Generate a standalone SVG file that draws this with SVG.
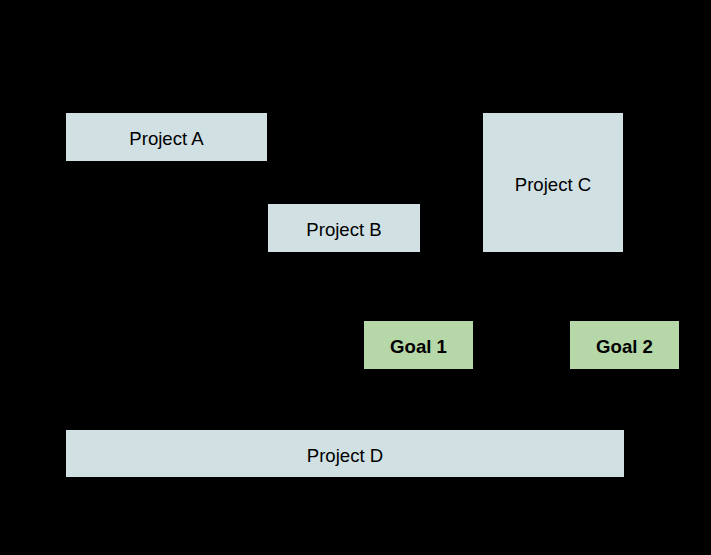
<svg xmlns="http://www.w3.org/2000/svg" width="711" height="555" viewBox="0 0 711 555">
<style>
.proj{fill:#d0e0e3}
.goal{fill:#b6d7a8}
text{font-family:"Liberation Sans",Arial,sans-serif;font-size:18.6px;fill:#000;text-anchor:middle;dominant-baseline:central}
.b{font-weight:bold}
</style>
<rect width="711" height="555" fill="#000"/>
<g id="connectors"></g>
<g id="projectA"><rect class="proj" x="66" y="113" width="201" height="48"/><text x="166.5" y="138.5">Project A</text></g>
<g id="projectB"><rect class="proj" x="268" y="204" width="152" height="48"/><text x="344" y="229.5">Project B</text></g>
<g id="projectC"><rect class="proj" x="483" y="113" width="140" height="139"/><text x="553" y="184.5">Project C</text></g>
<g id="goal1"><rect class="goal" x="364" y="321" width="109" height="48"/><text class="b" x="418.5" y="346.5">Goal 1</text></g>
<g id="goal2"><rect class="goal" x="570" y="321" width="109" height="48"/><text class="b" x="624.5" y="346.5">Goal 2</text></g>
<g id="projectD"><rect class="proj" x="66" y="430" width="558" height="47"/><text x="345" y="455.5">Project D</text></g>
</svg>
